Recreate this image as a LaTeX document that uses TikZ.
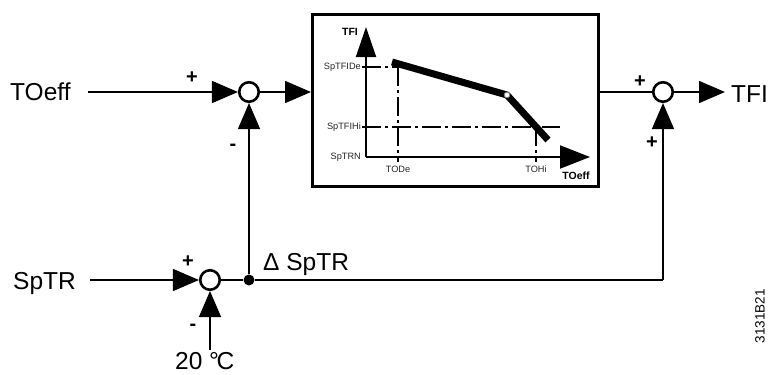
\documentclass[tikz,border=0pt]{standalone}
\usepackage{fontspec}
\setmainfont{Liberation Sans}
\usetikzlibrary{arrows.meta}
\begin{document}
\begin{tikzpicture}[x=1pt,y=-1pt,
  conn/.style={line width=1.5pt},
  bigarr/.style={-{Triangle[length=26pt,width=22pt]}},
  sumnode/.style={circle,draw,line width=2.6pt,minimum size=19.5pt,inner sep=0pt},
  lbl/.style={font=\fontsize{24.5}{28}\selectfont,inner sep=0pt},
  sgn/.style={font=\fontsize{20}{22}\selectfont\bfseries,inner sep=0pt},
  small/.style={font=\fontsize{9.2}{10}\selectfont,inner sep=0pt,text=black!85},
  smallb/.style={font=\fontsize{10.5}{12}\selectfont\bfseries,inner sep=0pt},
  dd/.style={line width=2.6pt,dash pattern=on 19pt off 4pt on 3pt off 4pt},
  axis/.style={line width=2pt},
]
\useasboundingbox (0,0) rectangle (769,375);
% upper chain
\node[lbl,anchor=base west] (toeff) at (10,100) {TOeff};
\coordinate (a1) at (88,92);
\node[sumnode] (s1) at (249,92) {};
\draw[conn,bigarr] (a1) -- (s1);
\node[draw,line width=3pt,minimum width=286pt,minimum height=172pt,inner sep=0pt] (box) at (455.5,100.5) {};
\draw[conn,bigarr] (s1) -- (s1 -| box.west);
\node[sumnode] (s3) at (663,92) {};
\draw[conn] (box.east |- s3) -- (s3);
\node[lbl,anchor=base west] (tfi) at (731,102) {TFI};
\draw[conn,bigarr,shorten >=6pt] (s3) -- (tfi.west |- s3);
% chart
\coordinate (o) at (366,157);
\draw[axis,-{Triangle[length=30pt,width=20pt]}] (o) -- (366,27);
\draw[axis,-{Triangle[length=30pt,width=23pt]}] (o) -- (590,157);
\draw[dd] (362,67) -- (398,67);
\draw[dd] (398,67) -- (398,162);
\draw[dd] (362,127) -- (560,127);
\draw[dd] (536,127) -- (536,162);
\draw[line width=7pt,line join=round] (392,62) -- (507,95) -- (548,140);
\draw[fill=white,line width=0.8pt,draw=gray] (507,95) circle (2.8);
\node[small,anchor=east] (lde) at (361,67) {SpTFIDe};
\node[small,anchor=east] (lhi) at (361,127) {SpTFIHi};
\node[small,anchor=east] (lrn) at (361,157) {SpTRN};
\node[small,anchor=north] (ltode) at (398,166) {TODe};
\node[small,anchor=north] (ltohi) at (536,166) {TOHi};
\node[smallb] (ltoeff) at (576,176) {TOeff};
\node[smallb] (ltfi) at (350,32) {TFI};
% lower chain
\node[lbl,anchor=base west] (sptr) at (13,289) {SpTR};
\coordinate (a2) at (90,280);
\node[sumnode] (s2) at (210,280) {};
\draw[conn,bigarr] (a2) -- (s2);
\node[fill,circle,inner sep=0pt,minimum size=11pt] (d) at (249,280) {};
\draw[conn] (s2) -- (d);
\coordinate (c) at (663,280);
\draw[conn] (d) -- (c);
\draw[conn,bigarr] (c) -- (s3);
\draw[conn,bigarr] (d) -- (s1);
\node[lbl,anchor=base west] (t20) at (175,369) {20 °\kern-2.5pt C};
\coordinate (a3) at (210,350);
\draw[conn,bigarr] (a3) -- (s2);
\node[lbl,anchor=base west] (dsptr) at (263,270) {Δ SpTR};
% signs
\node[sgn] at (192,78) {+};
\node[sgn] at (233,147) {-};
\node[sgn] at (640,82) {+};
\node[sgn] at (652,143) {+};
\node[sgn] at (188,262) {+};
\node[sgn] at (193,327) {-};
\node[font=\fontsize{13.5}{14}\selectfont,rotate=90,inner sep=0pt] (code) at (760,316) {3131B21};
\end{tikzpicture}
\end{document}
